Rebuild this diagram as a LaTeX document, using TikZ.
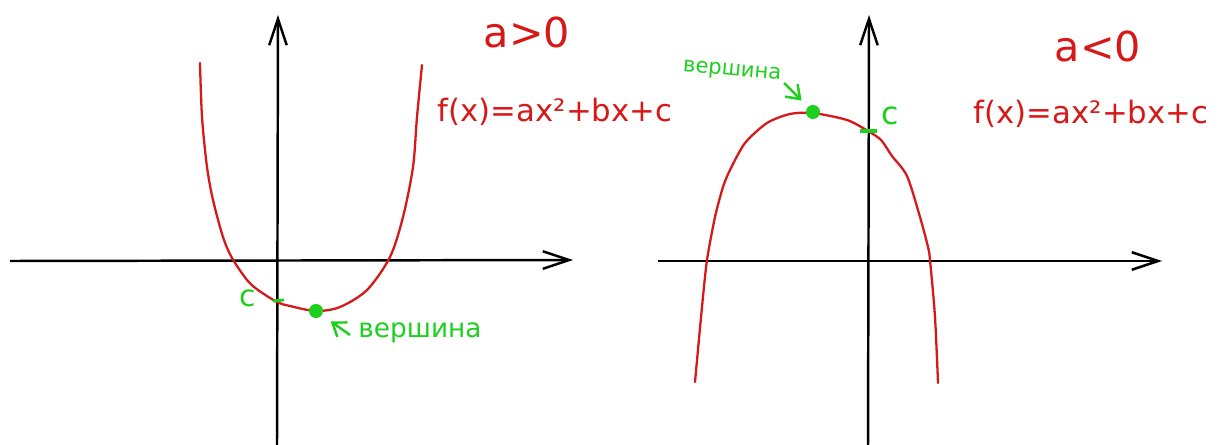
\documentclass[tikz,border=0pt]{standalone}
\usepackage{fontspec}
\usetikzlibrary{arrows.meta}
\newfontfamily\penfont{DejaVu Sans}
\definecolor{penR}{RGB}{214,24,24}
\definecolor{penG}{RGB}{30,208,30}
\tikzset{axisline/.style={line width=1.4pt, -{Straight Barb[length=15pt, width=10pt]}},
  curve/.style={penR, line width=1.3pt, line cap=round},
  vdot/.style={circle, fill=penG, inner sep=0pt, minimum size=8pt},
  lbl/.style={penG, font=\penfont\fontsize{15}{15}\selectfont, inner sep=1pt},
  note/.style={penG, line width=1.4pt, -{Straight Barb[length=7pt, width=10pt]}},
  formula/.style={penR, inner sep=0pt}}

\begin{document}
\begin{tikzpicture}[x=0.02cm, y=-0.02cm]
% picture in pixel units of the sketch, y pointing down
\useasboundingbox (0,0) rectangle (1219,445);
% axes: left origin (277,261), right origin (868,261)
\coordinate (xL0) at (10,261);  \coordinate (xL1) at (573,260);
\coordinate (yL0) at (277,445); \coordinate (yL1) at (278,15);
\coordinate (xR0) at (658,261); \coordinate (xR1) at (1162,261);
\coordinate (yR0) at (868,445); \coordinate (yR1) at (869,15);
\foreach \a/\b in {xL0/xL1, yL0/yL1, xR0/xR1, yR0/yR1}
  \draw[axisline] (\a) -- (\b);
% a > 0: opens upwards
\draw[curve] plot[smooth, tension=0.5] coordinates {(200,63) (202,117) (207,167)
  (213,200) (223,237) (232,258) (247,280) (258,290) (277,302) (290,306) (316,311)
  (340,307) (367,290) (390,257) (403,217) (413,167) (417,117) (422,65)};
% a < 0: opens downwards
\draw[curve] plot[smooth, tension=0.45] coordinates {(695,382) (702,307) (707,260)
  (715,217) (723,187) (730,170) (745,143) (767,123) (790,114) (813,113) (847,120)
  (868,131) (881,140) (892,156) (907,176) (920,217) (928,247) (930,260) (935,317)
  (938,383)};
% headings and formulas
\node[formula, font=\penfont\fontsize{23.5}{24}\selectfont] (signL) at (527,32) {a>0};
\node[formula, font=\penfont\fontsize{17.5}{18}\selectfont] (fL) at (555,112) {f(x)=ax²+bx+c};
\node[formula, font=\penfont\fontsize{23.5}{24}\selectfont] (signR) at (1098,46) {a<0};
\node[formula, font=\penfont\fontsize{17.5}{18}\selectfont] (fR) at (1091,114) {f(x)=ax²+bx+c};
% vertex and intercept c
\node[vdot] (vL) at (316,311) {};
\node[vdot] (vR) at (813,112) {};
\coordinate (cL0) at (273,301); \coordinate (cL1) at (284,300);
\coordinate (cR0) at (860,131); \coordinate (cR1) at (877,131);
\draw[penG, line width=1.6pt] (cL0) -- (cL1);
\draw[penG, line width=2.6pt] (cR0) -- (cR1);
\node[lbl, font=\penfont\fontsize{17}{17}\selectfont] (cLlbl) at (248,298) {c};
\node[lbl, font=\penfont\fontsize{18}{18}\selectfont] (cRlbl) at (890,116) {c};
\node[lbl] (topL) at (420,333) {вершина};
\node[lbl, font=\penfont\fontsize{12}{12}\selectfont, rotate=-5] (topR) at (732,72) {вершина};
\coordinate (tailL) at (350,335);
\coordinate (tailR) at (784,83);
\draw[note, shorten >=6pt] (tailL) -- (vL);
\draw[note, shorten >=5pt] (tailR) -- (vR);
\end{tikzpicture}
\end{document}
